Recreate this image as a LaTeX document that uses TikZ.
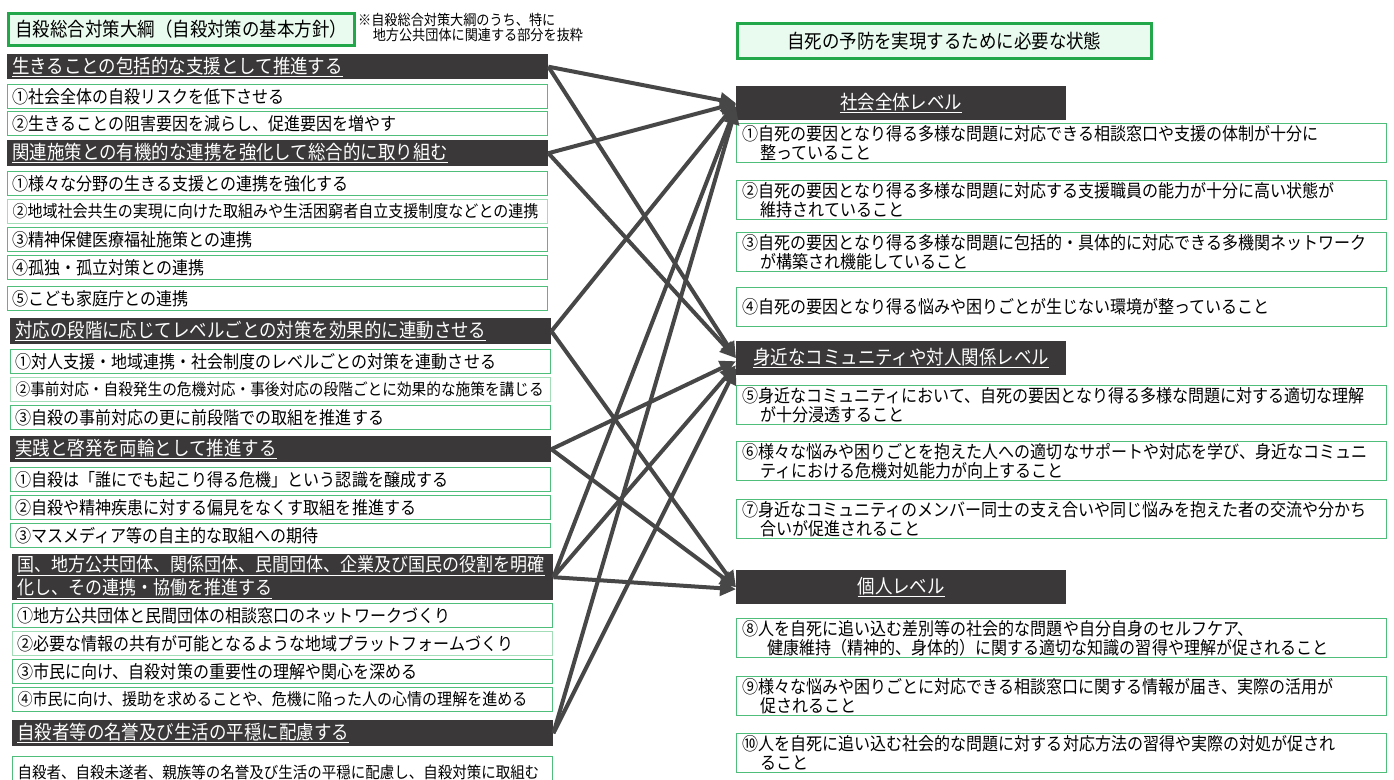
\documentclass[tikz,border=0pt]{standalone}
\usepackage{fontspec}
\setmainfont{Noto Sans CJK JP}[FakeStretch=0.9]
\usetikzlibrary{arrows.meta}
\definecolor{hdr}{HTML}{3A3838}
\definecolor{grn}{HTML}{4FBE7B}
\definecolor{grnl}{HTML}{A3DDB8}
\definecolor{tfill}{HTML}{E9FBEE}
\definecolor{tdraw}{HTML}{22A84A}
\definecolor{arrc}{HTML}{474747}
\newcommand\jfs[2]{\fontsize{#1}{#2}\selectfont}
\tikzset{
  lhdr/.style={fill=hdr, text=white, anchor=north west, inner xsep=5pt, inner ysep=0pt,
    text width=531pt, minimum height=25pt, align=left, font=\jfs{19.4}{23}},
  litem/.style={draw=grn, line width=1.2pt, fill=white, anchor=north west, inner xsep=5pt,
    inner ysep=0pt, text width=530pt, minimum height=24pt, align=left, font=\jfs{17.8}{19}},
  rhdr/.style={fill=hdr, text=white, anchor=north west, inner sep=0pt,
    minimum width=330pt, minimum height=34pt, align=center, font=\jfs{19.4}{21}},
  ritem/.style={draw=grn, line width=1.2pt, fill=white, anchor=north west, inner xsep=6pt,
    inner ysep=0pt, text width=638pt, minimum height=39pt, align=left, font=\jfs{17.8}{19}},
  ttl/.style={draw=tdraw, line width=2.6pt, fill=tfill, anchor=north west, inner sep=0pt,
    align=center, font=\jfs{19.4}{21}},
  arr/.style={draw=arrc, line width=4pt, -{Triangle[length=16pt,width=15pt]}},
}
\begin{document}
\begin{tikzpicture}[x=1pt,y=-1pt]
\useasboundingbox[fill=white] (0,0) rectangle (1394,779);

% ---- left column ----
\node[ttl, minimum width=346pt, minimum height=32pt] (ltitle) at (7,12) {自殺総合対策大綱（自殺対策の基本方針）};
\node[anchor=north west, inner sep=0pt, align=left, font=\jfs{14.6}{15}] (note) at (358,13)
  {※自殺総合対策大綱のうち、特に\\\hspace*{1em}地方公共団体に関連する部分を抜粋};

\node[lhdr] (h1) at (7,54) {\underline{生きることの包括的な支援として推進する}};
\node[litem] (a1) at (7,84) {①社会全体の自殺リスクを低下させる};
\node[litem] (a2) at (7,111) {②生きることの阻害要因を減らし、促進要因を増やす};

\node[lhdr, minimum height=26pt] (h2) at (7,140) {\underline{関連施策との有機的な連携を強化して総合的に取り組む}};
\node[litem] (b1) at (7,171) {①様々な分野の生きる支援との連携を強化する};
\node[litem, draw=grnl, font=\jfs{16.7}{18}] (b2) at (7,199) {②地域社会共生の実現に向けた取組みや生活困窮者自立支援制度などとの連携};
\node[litem] (b3) at (7,227) {③精神保健医療福祉施策との連携};
\node[litem] (b4) at (7,255) {④孤独・孤立対策との連携};
\node[litem] (b5) at (7,286) {⑤こども家庭庁との連携};

\node[lhdr, minimum height=26pt] (h3) at (10,318) {\underline{対応の段階に応じてレベルごとの対策を効果的に連動させる}};
\node[litem] (c1) at (10,349) {①対人支援・地域連携・社会制度のレベルごとの対策を連動させる};
\node[litem, draw=grnl, font=\jfs{16.3}{18}] (c2) at (10,377) {②事前対応・自殺発生の危機対応・事後対応の段階ごとに効果的な施策を講じる};
\node[litem] (c3) at (10,405) {③自殺の事前対応の更に前段階での取組を推進する};

\node[lhdr, minimum height=26pt] (h4) at (10,436) {\underline{実践と啓発を両輪として推進する}};
\node[litem] (d1) at (10,467) {①自殺は「誰にでも起こり得る危機」という認識を醸成する};
\node[litem] (d2) at (10,495) {②自殺や精神疾患に対する偏見をなくす取組を推進する};
\node[litem] (d3) at (10,523) {③マスメディア等の自主的な取組への期待};

\node[lhdr, minimum height=46pt, font=\jfs{18.9}{23}] (h5) at (12,554) {\underline{国、地方公共団体、関係団体、民間団体、企業及び国民の役割を明確}\\\underline{化し、その連携・協働を推進する}};
\node[litem] (e1) at (12,603) {①地方公共団体と民間団体の相談窓口のネットワークづくり};
\node[litem, draw=grnl] (e2) at (12,631) {②必要な情報の共有が可能となるような地域プラットフォームづくり};
\node[litem] (e3) at (12,659) {③市民に向け、自殺対策の重要性の理解や関心を深める};
\node[litem, font=\jfs{16.7}{18}] (e4) at (12,687) {④市民に向け、援助を求めることや、危機に陥った人の心情の理解を進める};

\node[lhdr, minimum height=26pt] (h6) at (12,720) {\underline{自殺者等の名誉及び生活の平穏に配慮する}};
\node[litem, minimum height=32pt, font=\jfs{16.1}{17}] (f1) at (12,756) {自殺者、自殺未遂者、親族等の名誉及び生活の平穏に配慮し、自殺対策に取組む};

% ---- right column ----
\node[ttl, minimum width=414pt, minimum height=35pt] (rtitle) at (736,22) {自死の予防を実現するために必要な状態};

\node[rhdr] (rS) at (736,86) {\underline{社会全体レベル}};
\node[ritem] (r1) at (736,123) {①自死の要因となり得る多様な問題に対応できる相談窓口や支援の体制が十分に\\\hspace*{1em}整っていること};
\node[ritem] (r2) at (736,180) {②自死の要因となり得る多様な問題に対応する支援職員の能力が十分に高い状態が\\\hspace*{1em}維持されていること};
\node[ritem] (r3) at (736,232) {③自死の要因となり得る多様な問題に包括的・具体的に対応できる多機関ネットワーク\\\hspace*{1em}が構築され機能していること};
\node[ritem] (r4) at (736,287) {④自死の要因となり得る悩みや困りごとが生じない環境が整っていること};

\node[rhdr] (rM) at (736,341) {\underline{身近なコミュニティや対人関係レベル}};
\node[ritem] (r5) at (736,385) {⑤身近なコミュニティにおいて、自死の要因となり得る多様な問題に対する適切な理解\\\hspace*{1em}が十分浸透すること};
\node[ritem] (r6) at (736,441) {⑥様々な悩みや困りごとを抱えた人への適切なサポートや対応を学び、身近なコミュニ\\\hspace*{1em}ティにおける危機対処能力が向上すること};
\node[ritem] (r7) at (736,499) {⑦身近なコミュニティのメンバー同士の支え合いや同じ悩みを抱えた者の交流や分かち\\\hspace*{1em}合いが促進されること};

\node[rhdr] (rP) at (736,570) {\underline{個人レベル}};
\node[ritem] (r8) at (736,618) {⑧人を自死に追い込む差別等の社会的な問題や自分自身のセルフケア、\\\hspace*{1.4em}健康維持（精神的、身体的）に関する適切な知識の習得や理解が促されること};
\node[ritem] (r9) at (736,676) {⑨様々な悩みや困りごとに対応できる相談窓口に関する情報が届き、実際の活用が\\\hspace*{1em}促されること};
\node[ritem] (r10) at (736,733) {⑩人を自死に追い込む社会的な問題に対する対応方法の習得や実際の対処が促され\\\hspace*{1em}ること};

% ---- connectors ----
\draw[arr] (h1.east) -- (rS.west);
\draw[arr] (h1.east) -- (rM.west);
\draw[arr] (h2.east) -- (rS.west);
\draw[arr] (h2.east) -- (rM.west);
\draw[arr] (h3.east) -- (rS.west);
\draw[arr] (h3.east) -- (rP.west);
\draw[arr] (h4.east) -- ([yshift=-3pt]rM.west);
\draw[arr] (h4.east) -- (rP.west);
\draw[arr] (h5.east) -- ([yshift=-3pt]rS.west);
\draw[arr] (h5.east) -- ([yshift=-7pt]rM.west);
\draw[arr] (h5.east) -- ([yshift=-2pt]rP.west);
\draw[arr] (h6.east) -- ([yshift=-5pt]rS.west);
\draw[arr] (h6.east) -- ([yshift=-10pt]rM.west);
\end{tikzpicture}
\end{document}
